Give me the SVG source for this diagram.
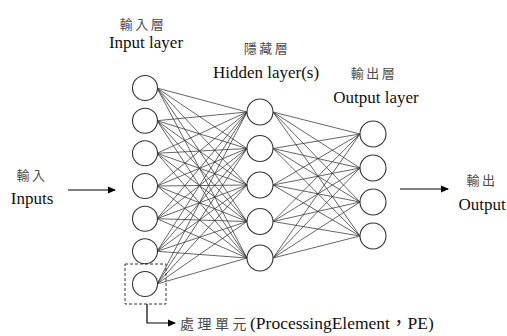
<svg xmlns="http://www.w3.org/2000/svg" width="507" height="336" viewBox="0 0 507 336">
  <defs>
    <marker id="arrow" markerWidth="8" markerHeight="8" refX="7" refY="4" orient="auto" markerUnits="userSpaceOnUse">
      <path d="M0,0.5 L8,4 L0,7.5 Z" fill="#000"/>
    </marker>
    <style>
      .node { fill: #fff; stroke: #333; stroke-width: 1.1; }
      .edge { stroke: #333; stroke-width: 0.75; fill: none; }
      .en { font-family: "Liberation Serif", "Times New Roman", serif; font-size: 17px; fill: #111; text-anchor: middle; }
      .zh { font-family: "Noto Sans CJK TC", sans-serif; font-size: 13px; fill: #4a4a4a; text-anchor: middle; letter-spacing: 2.5px; }
      .arrowline { stroke: #000; stroke-width: 1.2; fill: none; }
    </style>
  </defs>
  <rect width="507" height="336" fill="#fff"/>

  <!-- connectors: input -> hidden, hidden -> output -->
  <g id="connectors">
    <g class="edge">
      <!-- input layer (x=157) to hidden layer (x=247) -->
      <path d="M157,88 L247,112 M157,88 L247,148.5 M157,88 L247,185 M157,88 L247,221.5 M157,88 L247,258"/>
      <path d="M157,120.7 L247,112 M157,120.7 L247,148.5 M157,120.7 L247,185 M157,120.7 L247,221.5 M157,120.7 L247,258"/>
      <path d="M157,153.3 L247,112 M157,153.3 L247,148.5 M157,153.3 L247,185 M157,153.3 L247,221.5 M157,153.3 L247,258"/>
      <path d="M157,186 L247,112 M157,186 L247,148.5 M157,186 L247,185 M157,186 L247,221.5 M157,186 L247,258"/>
      <path d="M157,218.7 L247,112 M157,218.7 L247,148.5 M157,218.7 L247,185 M157,218.7 L247,221.5 M157,218.7 L247,258"/>
      <path d="M157,251.3 L247,112 M157,251.3 L247,148.5 M157,251.3 L247,185 M157,251.3 L247,221.5 M157,251.3 L247,258"/>
      <path d="M157,284 L247,112 M157,284 L247,148.5 M157,284 L247,185 M157,284 L247,221.5 M157,284 L247,258"/>
      <!-- hidden layer (x=273) to output layer (x=360) -->
      <path d="M273,112 L360,134 M273,112 L360,168 M273,112 L360,202 M273,112 L360,236"/>
      <path d="M273,148.5 L360,134 M273,148.5 L360,168 M273,148.5 L360,202 M273,148.5 L360,236"/>
      <path d="M273,185 L360,134 M273,185 L360,168 M273,185 L360,202 M273,185 L360,236"/>
      <path d="M273,221.5 L360,134 M273,221.5 L360,168 M273,221.5 L360,202 M273,221.5 L360,236"/>
      <path d="M273,258 L360,134 M273,258 L360,168 M273,258 L360,202 M273,258 L360,236"/>
    </g>
    <!-- external input / output arrows -->
    <line class="arrowline" x1="68" y1="190" x2="115" y2="190" marker-end="url(#arrow)"/>
    <line class="arrowline" x1="400" y1="189" x2="448" y2="189" marker-end="url(#arrow)"/>
    <!-- callout from the processing element -->
    <path class="arrowline" d="M147,304 L147,323 L175,323" stroke-width="1" marker-end="url(#arrow)"/>
  </g>

  <!-- input layer -->
  <g id="input-layer">
    <circle class="node" cx="145" cy="88" r="12.5"/>
    <circle class="node" cx="145" cy="120.7" r="12.5"/>
    <circle class="node" cx="145" cy="153.3" r="12.5"/>
    <circle class="node" cx="145" cy="186" r="12.5"/>
    <circle class="node" cx="145" cy="218.7" r="12.5"/>
    <circle class="node" cx="145" cy="251.3" r="12.5"/>
    <circle class="node" cx="145" cy="284" r="12.5"/>
  </g>

  <!-- hidden layer -->
  <g id="hidden-layer">
    <circle class="node" cx="260" cy="112" r="13"/>
    <circle class="node" cx="260" cy="148.5" r="13"/>
    <circle class="node" cx="260" cy="185" r="13"/>
    <circle class="node" cx="260" cy="221.5" r="13"/>
    <circle class="node" cx="260" cy="258" r="13"/>
  </g>

  <!-- output layer -->
  <g id="output-layer">
    <circle class="node" cx="373" cy="134" r="13"/>
    <circle class="node" cx="373" cy="168" r="13"/>
    <circle class="node" cx="373" cy="202" r="13"/>
    <circle class="node" cx="373" cy="236" r="13"/>
  </g>

  <!-- processing element highlight -->
  <g id="processing-element">
    <rect x="125" y="264" width="41" height="40" fill="none" stroke="#333" stroke-width="1" stroke-dasharray="3,2"/>
  </g>

  <!-- labels -->
  <g id="labels">
    <text class="zh" x="143" y="29">輸入層</text>
    <text class="en" x="146" y="48">Input layer</text>
    <text class="zh" x="267" y="53">隱藏層</text>
    <text class="en" x="266" y="78">Hidden layer(s)</text>
    <text class="zh" x="374" y="78">輸出層</text>
    <text class="en" x="376" y="103">Output layer</text>
    <text class="zh" x="32" y="180">輸入</text>
    <text class="en" x="32" y="204">Inputs</text>
    <text class="zh" x="482" y="185">輸出</text>
    <text class="en" x="482" y="210">Output</text>
    <text x="180" y="329" font-family="Liberation Serif, Noto Sans CJK TC, serif" font-size="17.5" fill="#111"><tspan font-family="Noto Sans CJK TC, sans-serif" fill="#4a4a4a" font-size="14" letter-spacing="3.5">處理單元</tspan>(ProcessingElement，PE)</text>
  </g>
</svg>
